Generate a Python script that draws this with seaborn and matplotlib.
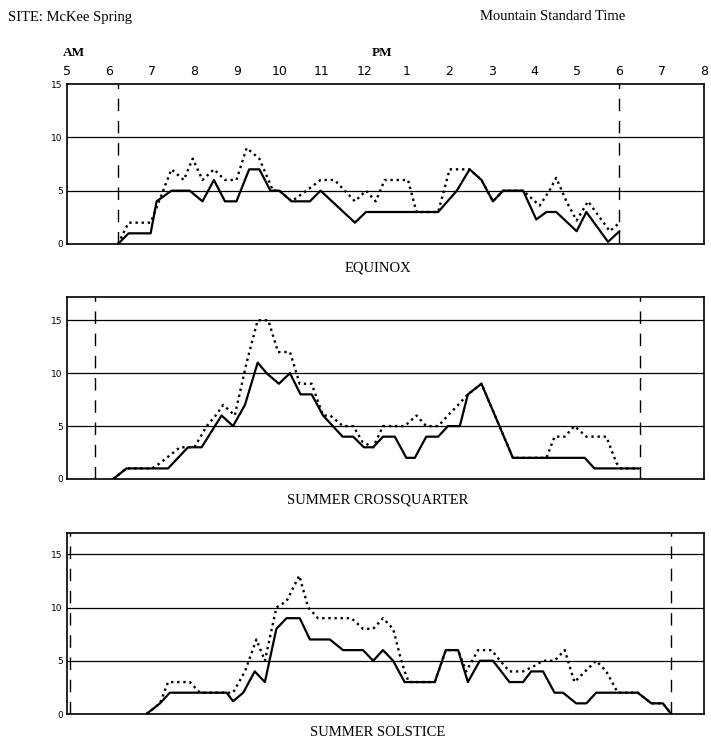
import matplotlib
matplotlib.use("Agg")
import matplotlib.pyplot as plt
import seaborn as sns

# Hours of the day (decimal, 24h clock) and values

# Equinox
eq_solid_hours = [6.2, 6.45, 6.97, 7.11, 7.46, 7.89, 8.19, 8.46, 8.72, 8.99, 9.29, 9.53,
                  9.79, 10.0, 10.29, 10.72, 10.97, 11.78, 12.04, 13.74, 14.18, 14.48,
                  14.76, 15.03, 15.27, 15.74, 16.05, 16.29, 16.52, 17.0, 17.23, 17.74, 18.01]
eq_solid_vals = [0, 1, 1, 4, 5, 5, 4, 6, 4, 4, 7, 7,
                 5, 5, 4, 4, 5, 2, 3, 3, 5, 7,
                 6, 4, 5, 5, 2.3, 3, 3, 1.2, 3, 0.2, 1.2]
eq_dot_hours = [6.2, 6.45, 6.97, 7.46, 7.75, 7.96, 8.19, 8.46, 8.72, 8.99, 9.23, 9.53,
                9.85, 10.0, 10.29, 10.64, 10.97, 11.3, 11.54, 11.78, 12.04, 12.27, 12.48,
                13.03, 13.23, 13.74, 14.01, 14.48, 14.76, 15.03, 15.27, 15.74, 16.13,
                16.36, 16.52, 16.76, 17.0, 17.27, 17.78, 18.01]
eq_dot_vals = [0, 2, 2, 7, 6, 8, 6, 7, 6, 6, 9, 8,
               5, 5, 4, 5, 6, 6, 5, 4, 5, 4, 6,
               6, 3, 3, 7, 7, 6, 4, 5, 5, 3.6,
               5, 6.2, 4, 2.2, 4, 1.2, 2]
eq_sun = [6.2, 18.0]

# Summer crossquarter
cq_solid_hours = [6.09, 6.4, 7.38, 7.85, 8.17, 8.64, 8.91, 9.19, 9.49, 9.7, 9.99, 10.25,
                  10.5, 10.76, 11.03, 11.49, 11.74, 11.99, 12.21, 12.44, 12.72, 12.99,
                  13.19, 13.46, 13.74, 13.97, 14.25, 14.44, 14.76, 15.5, 17.19, 17.42, 18.47]
cq_solid_vals = [0, 1, 1, 3, 3, 6, 5, 7, 11, 10, 9, 10,
                 8, 8, 6, 4, 4, 3, 3, 4, 4, 2,
                 2, 4, 4, 5, 5, 8, 9, 2, 2, 1, 1]
cq_dot_hours = [6.09, 6.4, 7.0, 7.19, 7.66, 8.0, 8.29, 8.5, 8.68, 8.95, 9.23, 9.49, 9.74,
                9.97, 10.25, 10.48, 10.76, 11.03, 11.2, 11.5, 11.74, 11.96, 12.21, 12.44,
                12.95, 13.23, 13.46, 13.74, 13.97, 14.21, 14.44, 14.76, 15.5, 16.29,
                16.48, 16.72, 16.95, 17.23, 17.7, 17.94, 18.05, 18.47]
cq_dot_vals = [0, 1, 1, 1.5, 3, 3, 5, 6, 7, 6, 11, 15, 15,
               12, 12, 9, 9, 6, 6, 5, 5, 3.5, 3, 5,
               5, 6, 5, 5, 6, 7, 8, 9, 2, 2,
               4, 4, 5, 4, 4, 1.5, 1, 1]
cq_sun = [5.66, 18.5]

# Summer solstice
ss_solid_hours = [6.87, 7.19, 7.42, 8.76, 8.91, 9.15, 9.42, 9.66, 9.93, 10.17, 10.48, 10.72,
                  11.19, 11.5, 11.97, 12.21, 12.44, 12.68, 12.95, 13.66, 13.92, 14.21, 14.44,
                  14.72, 15.03, 15.42, 15.74, 15.93, 16.21, 16.48, 16.68, 16.99, 17.23,
                  17.46, 18.44, 18.76, 19.03, 19.23]
ss_solid_vals = [0, 1, 2, 2, 1.2, 2, 4, 3, 8, 9, 9, 7,
                 7, 6, 6, 5, 6, 5, 3, 3, 6, 6, 3,
                 5, 5, 3, 3, 4, 4, 2, 2, 1, 1,
                 2, 2, 1, 1, 0]
ss_dot_hours = [6.87, 7.19, 7.38, 7.89, 8.13, 8.91, 9.19, 9.46, 9.66, 9.93, 10.17, 10.47,
                10.68, 10.91, 11.7, 11.97, 12.21, 12.44, 12.68, 12.84, 12.95, 13.05, 13.66,
                13.92, 14.21, 14.4, 14.68, 15.0, 15.2, 15.42, 15.74, 16.0, 16.21, 16.48,
                16.72, 16.95, 17.2, 17.46, 17.7, 17.97, 18.44, 18.76, 19.03, 19.23]
ss_dot_vals = [0, 1, 3, 3, 2, 2, 4, 7, 5, 10, 10.6, 13,
               10, 9, 9, 8, 8, 9, 8, 5.5, 4, 3, 3,
               6, 6, 4, 6, 6, 5, 4, 4, 4.5, 5, 5,
               6, 3, 4, 5, 4, 2, 2, 1, 1, 0]
ss_sun = [5.07, 19.23]

hour_ticks = list(range(5, 21))
hour_labels = ["5", "6", "7", "8", "9", "10", "11", "12", "1", "2", "3", "4", "5", "6", "7", "8"]
y_ticks = [0, 5, 10, 15]

panels = [
    ("EQUINOX", eq_solid_hours, eq_solid_vals, eq_dot_hours, eq_dot_vals, eq_sun, 15.0),
    ("SUMMER CROSSQUARTER", cq_solid_hours, cq_solid_vals, cq_dot_hours, cq_dot_vals, cq_sun, 17.2),
    ("SUMMER SOLSTICE", ss_solid_hours, ss_solid_vals, ss_dot_hours, ss_dot_vals, ss_sun, 17.0),
]

sns.set_style("white")
plt.rcParams["font.family"] = ["Liberation Serif", "DejaVu Serif"]

W, H = 711, 742
fig = plt.figure(figsize=(W / 100, H / 100), dpi=100)

# axes boxes in pixels: (left, top, right, bottom)
boxes = [(67, 84, 704, 244), (67, 297, 704, 479), (67, 533, 704, 714)]
title_y = [268, 500, 733]

for i, (name, sh, sv, dh, dv, sun, ytop) in enumerate(panels):
    l, t, r, b = boxes[i]
    ax = fig.add_axes([l / W, 1 - b / H, (r - l) / W, (b - t) / H])

    sns.lineplot(x=dh, y=dv, ax=ax, color="black", linewidth=1.7,
                 linestyle=(0, (1, 1.6)), estimator=None, sort=False)
    sns.lineplot(x=sh, y=sv, ax=ax, color="black", linewidth=1.6,
                 estimator=None, sort=False)

    for s in sun:
        ax.axvline(s, color="black", linewidth=1.0, dashes=(9, 7))

    for g in [5, 10, 15]:
        if g < ytop:
            ax.axhline(g, color="black", linewidth=0.9)

    ax.set_xlim(5, 20)
    ax.set_ylim(0, ytop)
    ax.set_yticks(y_ticks)
    ax.set_yticklabels([str(v) for v in y_ticks], fontsize=6.5, family="DejaVu Sans", color="black")
    ax.tick_params(axis="y", length=0, pad=3, labelcolor="black")
    ax.set_xlabel("")
    ax.set_ylabel("")
    for sp in ax.spines.values():
        sp.set_visible(True)
        sp.set_color("black")
        sp.set_linewidth(1.2)

    if i == 0:
        ax.xaxis.tick_top()
        ax.set_xticks(hour_ticks)
        ax.set_xticklabels(hour_labels, fontsize=9, family="DejaVu Sans", color="black")
        ax.tick_params(axis="x", length=0, pad=4, labelcolor="black")
    else:
        ax.set_xticks([])

    fig.text(378 / W, 1 - title_y[i] / H, name, ha="center", va="center", fontsize=10.5, color="black")

fig.text(8 / W, 1 - 17 / H, "SITE: McKee Spring", ha="left", va="center", fontsize=10.5, color="black")
fig.text(480 / W, 1 - 17 / H, "Mountain Standard Time", ha="left", va="center", fontsize=10.5, color="black")
fig.text(74 / W, 1 - 53 / H, "AM", ha="center", va="center", fontsize=9.5, fontweight="bold", color="black")
fig.text(382 / W, 1 - 53 / H, "PM", ha="center", va="center", fontsize=9.5, fontweight="bold", color="black")

fig.savefig("out.png", dpi=100)
plt.close(fig)
